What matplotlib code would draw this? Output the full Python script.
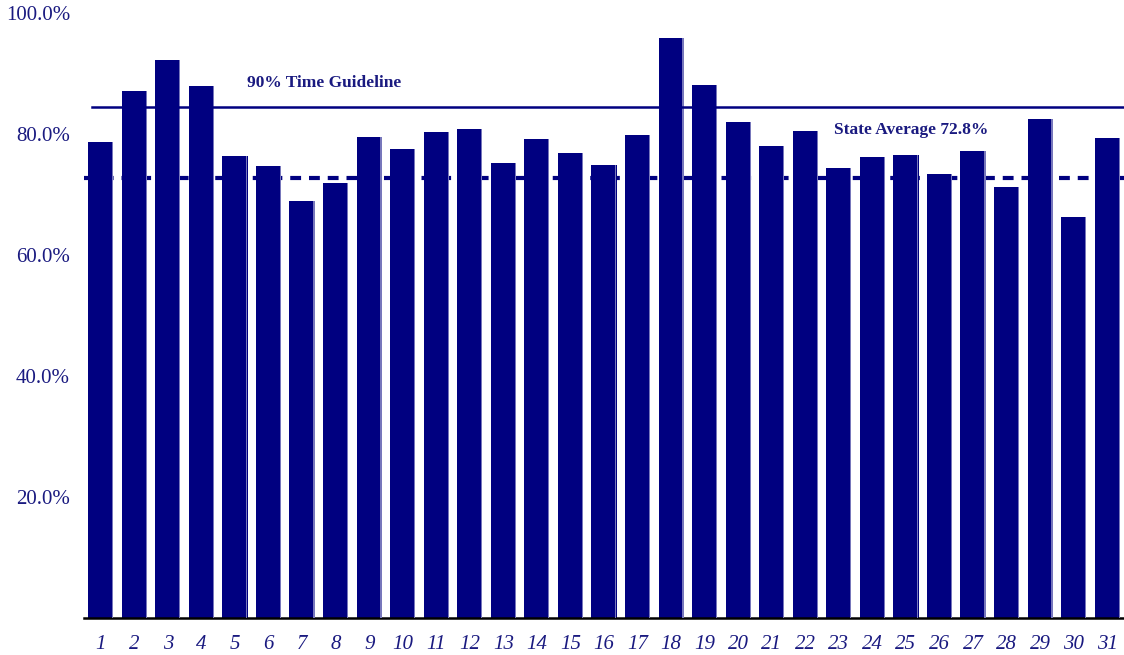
import numpy as np
import matplotlib
matplotlib.use('Agg')
import matplotlib.pyplot as plt

# ── data ──
counties = [str(i) for i in range(1, 32)]
pct_on_time = [78.7, 87.1, 92.2, 87.9, 76.4, 74.7, 68.9, 71.9, 79.5, 77.5,
               80.3, 80.8, 75.2, 79.2, 76.9, 74.9, 79.8, 95.9, 88.1, 82.0,
               78.0, 80.5, 74.4, 76.2, 76.5, 73.4, 77.2, 71.2, 82.5, 66.3,
               79.3]
guideline = 84.5
state_avg = 72.8
yticks = [20, 40, 60, 80, 100]
ytick_labels = ['20.0%', '40.0%', '60.0%', '80.0%', '100.0%']

NAVY = '#000080'
TXT = '#1a1a80'
plt.rcParams['font.family'] = ['Liberation Serif', 'DejaVu Serif']

fig = plt.figure(figsize=(11.24, 6.55), dpi=100)
ax = fig.add_axes([84 / 1124, 37 / 655, 1040 / 1124, 605 / 655])

x = np.arange(1, len(counties) + 1)
w = 0.75

# average line sits behind the bars
ax.plot([0.5, 31.5], [state_avg, state_avg], color=NAVY, lw=3,
        dashes=(2.6, 1.9), zorder=1)

ax.bar(x, pct_on_time, width=w, color=NAVY, edgecolor='none', zorder=2)
# thin light stripe on the right side for the 3d look
ax.bar(x + w / 2 - 0.02, pct_on_time, width=0.035, color='#7777bb',
       edgecolor='none', zorder=3)

ax.plot([0.74, 31.5], [guideline, guideline], color=NAVY, lw=1.8, zorder=4)

ax.text(7.65, 88.4, '90% Time Guideline', color=TXT, fontsize=12.5,
        fontweight='bold', ha='center', va='center')
ax.text(25.15, 80.7, 'State Average 72.8%', color=TXT, fontsize=12.5,
        fontweight='bold', ha='center', va='center')

ax.set_xlim(0.5, 31.5)
ax.set_ylim(0, 100)
ax.set_xticks(x)
ax.set_xticklabels(counties, fontsize=15, style='italic', color=TXT)
ax.set_yticks(yticks)
ax.set_yticklabels(ytick_labels, fontsize=15, color=TXT)
ax.tick_params(axis='x', length=0, pad=12)
ax.tick_params(axis='y', length=0, pad=10)

for side in ['top', 'right', 'left']:
    ax.spines[side].set_visible(False)
ax.spines['bottom'].set_color('black')
ax.spines['bottom'].set_linewidth(1.8)

fig.savefig('out.png', dpi=100, facecolor='white')
